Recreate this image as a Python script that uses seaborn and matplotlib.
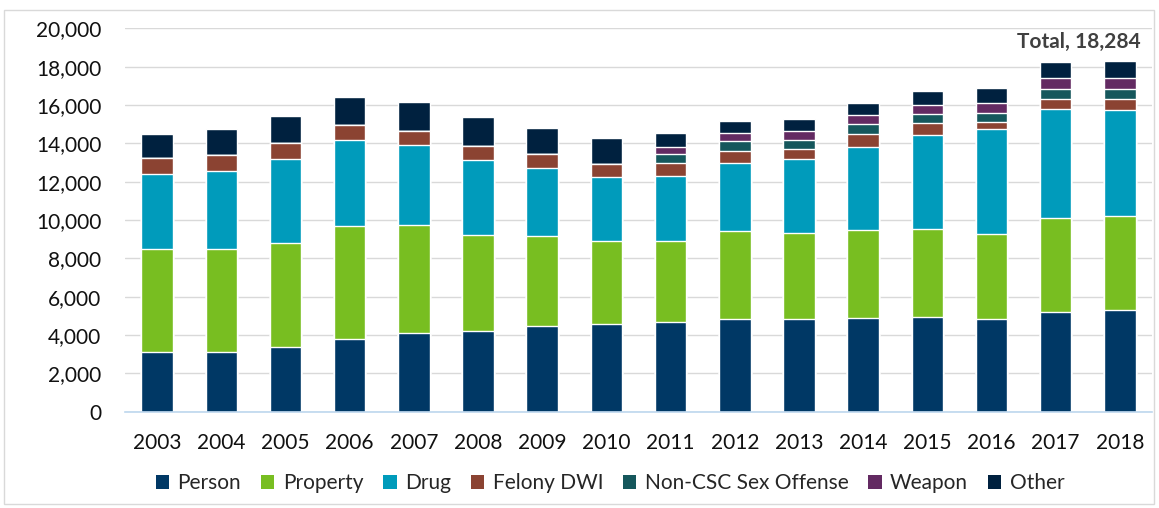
import matplotlib
matplotlib.use("Agg")
import matplotlib.pyplot as plt
from matplotlib.patches import Patch, Rectangle
from matplotlib.ticker import FuncFormatter, FixedLocator
import numpy as np
import pandas as pd
import seaborn as sns

years = [str(y) for y in range(2003, 2019)]
person = [3100, 3130, 3360, 3810, 4090, 4210, 4490, 4570, 4690, 4820, 4820, 4890, 4960, 4820, 5200, 5290]
property_ = [5400, 5360, 5440, 5880, 5670, 5020, 4690, 4350, 4210, 4610, 4520, 4590, 4590, 4430, 4900, 4920]
drug = [3880, 4050, 4380, 4480, 4150, 3880, 3550, 3340, 3410, 3540, 3840, 4340, 4880, 5480, 5670, 5530]
felony_dwi = [840, 830, 850, 800, 730, 770, 710, 660, 660, 630, 510, 680, 610, 400, 540, 550]
sex_offense = [0, 0, 0, 0, 0, 0, 0, 0, 470, 520, 480, 510, 490, 470, 520, 540]
weapon = [0, 0, 0, 0, 0, 0, 0, 0, 350, 400, 490, 470, 470, 520, 560, 560]
other = [1250, 1360, 1410, 1460, 1500, 1510, 1370, 1370, 760, 660, 620, 640, 730, 750, 870, 894]

categories = ["Person", "Property", "Drug", "Felony DWI", "Non-CSC Sex Offense", "Weapon", "Other"]
series = [person, property_, drug, felony_dwi, sex_offense, weapon, other]
colors = ["#003865", "#78BE21", "#009BBB", "#8B4332", "#15575C", "#632A62", "#00213F"]

df = pd.DataFrame(dict(zip(categories, series)), index=years)
cum = df.cumsum(axis=1)
total_2018 = int(df.loc["2018"].sum())

sns.set_style("white")
plt.rcParams["font.family"] = ["Lato", "DejaVu Sans"]

fig = plt.figure(figsize=(11.59, 5.08), dpi=100)
ax = fig.add_axes([125 / 1159, 1 - 411.7 / 508, 1027 / 1159, (411.7 - 28.3) / 508])

# stacked bars: draw cumulative totals from the top category down
for cat, col in reversed(list(zip(categories, colors))):
    sns.barplot(x=years, y=cum[cat].values, order=years, color=col, width=0.49,
                edgecolor="white", linewidth=1.0, saturation=1, ax=ax)

ax.set_ylim(0, 20000)
ax.set_xlim(-0.5, len(years) - 0.5)
ax.set_yticks(np.arange(0, 20001, 2000))
ax.yaxis.set_major_formatter(FuncFormatter(lambda v, p: f"{int(v):,}"))
ax.yaxis.grid(True, color="#D9D9D9", linewidth=1)
ax.set_axisbelow(True)
ax.set_xlabel("")
ax.set_ylabel("")
for side in ["top", "right", "left"]:
    ax.spines[side].set_visible(False)
ax.spines["bottom"].set_color("#BDD7EE")
ax.spines["bottom"].set_linewidth(1.2)

ax.tick_params(axis="y", length=0, labelsize=15, pad=17, labelcolor="#111111")
ax.tick_params(axis="x", length=0, labelsize=15, pad=15, labelcolor="#111111")
ax.xaxis.set_minor_locator(FixedLocator(np.arange(-0.5, len(years), 1)))
ax.tick_params(axis="x", which="minor", length=7, width=1.2, color="#BDD7EE", direction="out")

ax.annotate(f"Total, {total_2018:,}", xy=(15.33, total_2018), xytext=(0, 7),
            textcoords="offset points", ha="right", va="bottom",
            fontsize=15, fontweight="bold", color="#404040")

handles = [Patch(facecolor=c, edgecolor="none") for c in colors]
fig.legend(handles, categories, loc="center", bbox_to_anchor=(610 / 1159, 1 - 483 / 508),
           ncol=7, frameon=False, fontsize=15, handlelength=0.65, handleheight=0.65,
           handletextpad=0.4, columnspacing=0.95)

fig.patches.append(Rectangle((4 / 1159, 1 - 504 / 508), 1150 / 1159, 494 / 508,
                             transform=fig.transFigure, fill=False,
                             edgecolor="#D9D9D9", linewidth=1))

fig.savefig("out.png", dpi=100)
